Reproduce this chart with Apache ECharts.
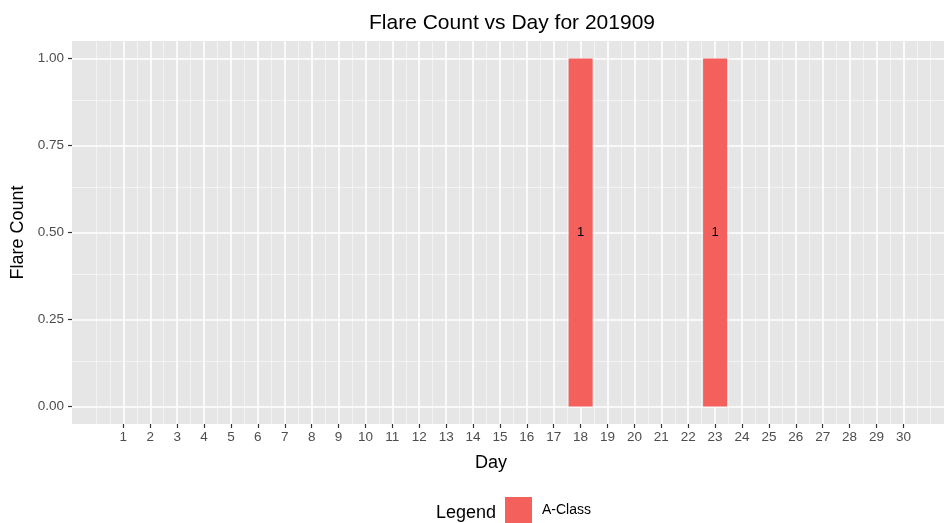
<!DOCTYPE html>
<html>
<head>
<meta charset="utf-8">
<script src="https://cdn.jsdelivr.net/npm/echarts@6/dist/echarts.min.js"></script>
<style>
  html, body { margin: 0; padding: 0; background: #fff; }
  #chart { width: 944px; height: 523px; }
</style>
</head>
<body>
<div id="chart"></div>
<script>
  // days of the month and flare counts (A-Class)
  var days = [1, 2, 3, 4, 5, 6, 7, 8, 9, 10, 11, 12, 13, 14, 15, 16, 17, 18, 19, 20, 21, 22, 23, 24, 25, 26, 27, 28, 29, 30];
  var aClass = [0, 0, 0, 0, 0, 0, 0, 0, 0, 0, 0, 0, 0, 0, 0, 0, 0, 1, 0, 0, 0, 0, 1, 0, 0, 0, 0, 0, 0, 0];
  var yTicks = [0, 0.25, 0.5, 0.75, 1];
  var yMinor = [0.125, 0.375, 0.625, 0.875];
  var xMinor = [0, 0.5, 1.5, 2.5, 3.5, 4.5, 5.5, 6.5, 7.5, 8.5, 9.5, 10.5, 11.5, 12.5, 13.5, 14.5,
    15.5, 16.5, 17.5, 18.5, 19.5, 20.5, 21.5, 22.5, 23.5, 24.5, 25.5, 26.5, 27.5, 28.5, 29.5, 30.5, 31];

  var font = 'Liberation Sans, Arial, sans-serif';

  var barData = days.map(function (d, i) {
    return {
      value: [d, aClass[i]],
      label: { show: aClass[i] > 0 }
    };
  });

  var minorLines = xMinor.map(function (v) { return { xAxis: v }; })
    .concat(yMinor.map(function (v) { return { yAxis: v }; }));
  var majorLines = days.map(function (v) { return { xAxis: v }; })
    .concat(yTicks.map(function (v) { return { yAxis: v }; }));

  var chart = echarts.init(document.getElementById('chart'));
  chart.setOption({
    animation: false,
    title: [{
      text: 'Flare Count vs Day for 201909',
      left: 507, top: 8, textAlign: 'center',
      textStyle: { fontFamily: font, fontSize: 21, fontWeight: 'normal', color: '#000' }
    }, {
      text: 'Day',
      left: 486, top: 449, textAlign: 'center',
      textStyle: { fontFamily: font, fontSize: 18, fontWeight: 'normal', color: '#000' }
    }, {
      text: 'Legend',
      left: 431, top: 499,
      textStyle: { fontFamily: font, fontSize: 18, fontWeight: 'normal', color: '#000' }
    }],
    legend: {
      left: 505, top: 497, padding: 0,
      itemWidth: 27, itemHeight: 26, itemGap: 10,
      icon: 'rect',
      textStyle: { fontFamily: font, fontSize: 14, color: '#000', padding: [5, 0, 0, 5] },
      data: ['A-Class']
    },
    grid: {
      left: 72, right: 0, top: 41, bottom: 99,
      outerBoundsMode: 'none',
      show: true, backgroundColor: '#e6e6e6', borderWidth: 0
    },
    xAxis: {
      type: 'value', min: -0.91, max: 31.51,
      axisLine: { show: false, onZero: false },
      axisTick: { show: true, customValues: days, length: 4, lineStyle: { color: '#333', width: 1.2 } },
      axisLabel: { customValues: days, margin: 6, fontFamily: font, fontSize: 13.5, color: '#4d4d4d' },
      splitLine: { show: false }
    },
    yAxis: {
      type: 'value', min: -0.05, max: 1.05,
      name: 'Flare Count', nameLocation: 'middle', nameGap: 43,
      nameTextStyle: { fontFamily: font, fontSize: 18, color: '#000' },
      axisLine: { show: false, onZero: false },
      axisTick: { show: true, customValues: yTicks, length: 4, lineStyle: { color: '#333', width: 1.2 } },
      axisLabel: {
        customValues: yTicks, margin: 8, fontFamily: font, fontSize: 13.5, color: '#4d4d4d',
        formatter: function (v) { return v.toFixed(2); }
      },
      splitLine: { show: false }
    },
    series: [{
      name: 'minor',
      type: 'line', data: [], silent: true,
      markLine: {
        silent: true, symbol: 'none', z: 1, animation: false,
        label: { show: false },
        lineStyle: { color: '#f4f4f4', width: 0.9, type: 'solid' },
        emphasis: { disabled: true },
        data: minorLines
      }
    }, {
      name: 'major',
      type: 'line', data: [], silent: true,
      markLine: {
        silent: true, symbol: 'none', z: 1, animation: false,
        label: { show: false },
        lineStyle: { color: '#ffffff', width: 1.6, type: 'solid' },
        emphasis: { disabled: true },
        data: majorLines
      }
    }, {
      name: 'A-Class',
      type: 'bar', z: 3,
      barWidth: 24,
      itemStyle: { color: '#f4605c' },
      label: {
        position: 'inside', color: '#000', fontFamily: font, fontSize: 13,
        formatter: function (p) { return p.value[1]; }
      },
      data: barData
    }]
  });
</script>
</body>
</html>
